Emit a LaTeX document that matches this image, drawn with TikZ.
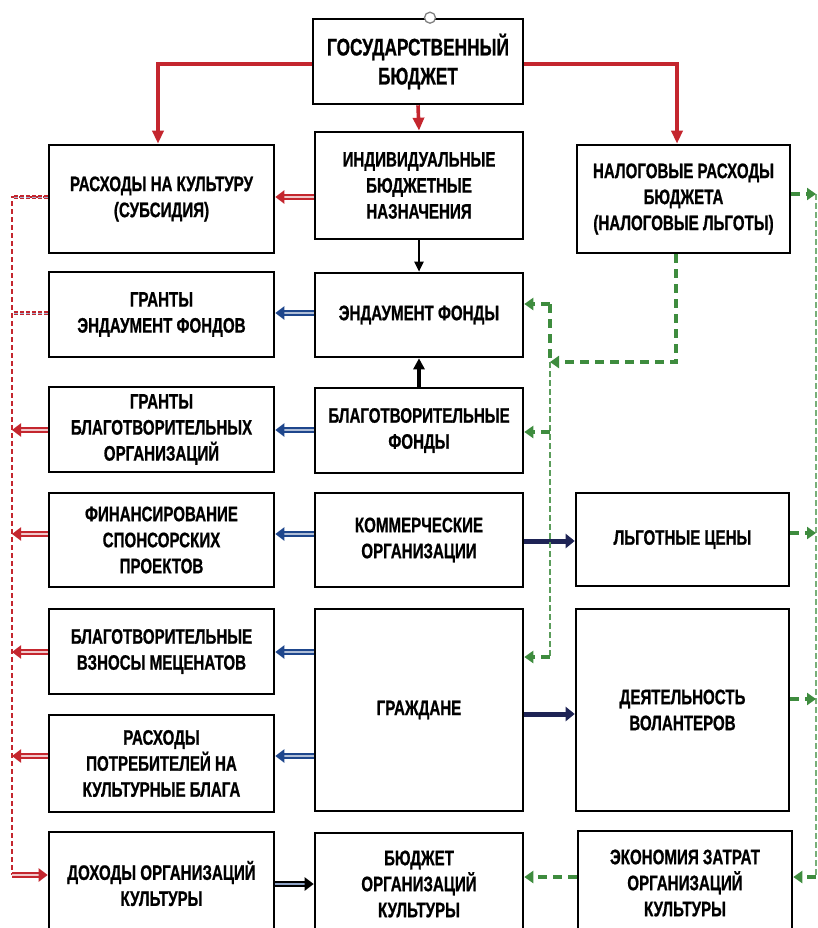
\documentclass[tikz,border=0pt]{standalone}
\usepackage{fontspec}
\newfontfamily\cf{Liberation Sans}[FakeStretch=0.72, FakeBold=0.8]
\usetikzlibrary{arrows.meta}
\definecolor{myred}{RGB}{196,38,46}
\definecolor{myblue}{RGB}{30,70,140}
\definecolor{mynavy}{RGB}{30,35,85}
\definecolor{mygreen}{RGB}{62,140,62}
\definecolor{mylgreen}{RGB}{120,175,120}
\tikzset{
  box/.style={draw=black, line width=2.6pt, fill=white, align=center, inner sep=0pt,
    font=\cf\bfseries\fontsize{21}{26}\selectfont},
  bigbox/.style={box, font=\cf\bfseries\fontsize{24}{29}\selectfont},
  redarr/.style={draw=myred, line width=3.6pt, -{Triangle[length=13pt,width=11pt]}},
  dbl/.style={line width=2.2pt, double distance=1.3pt, -{Triangle[length=9pt,width=13pt]}},
  dred/.style={dbl, draw=myred, double=myred!25},
  dblue/.style={dbl, draw=myblue, double=myblue!35},
  dblack/.style={dbl, draw=black, double=myblue!50},
  navyarr/.style={draw=mynavy, line width=5pt, -{Triangle[length=9pt,width=14pt]}},
  blkarr/.style={draw=black, line width=2.2pt, -{Triangle[length=10pt,width=9pt]}},
  blkthick/.style={draw=black, line width=3.4pt, -{Triangle[length=11pt,width=11pt]}},
  rdash/.style={draw=myred, line width=1.5pt, dash pattern=on 5pt off 3pt},
  rdashw/.style={draw=myred, line width=1.6pt, dash pattern=on 4pt off 2pt, double=myblue!40, double distance=0.6pt},
  gdash/.style={draw=mygreen, line width=3.6pt, dash pattern=on 9pt off 6pt},
  garr/.style={gdash, -{Triangle[length=9pt,width=12pt]}},
  gthin/.style={draw=mygreen!85, line width=1.8pt, dash pattern=on 6pt off 3pt},
  glight/.style={draw=mylgreen, line width=1.5pt, dash pattern=on 6pt off 3pt},
}
\begin{document}
\begin{tikzpicture}[x=1pt,y=-1pt]
\useasboundingbox (0,0) rectangle (818,928);
\clip (0,0) rectangle (818,928);
% boxes
\node[bigbox, minimum width=210, minimum height=85] (gb) at (418,61.5) {ГОСУДАРСТВЕННЫЙ\\БЮДЖЕТ};
\node[circle, draw=gray, fill=white, line width=1.3pt, minimum size=11pt, inner sep=0pt] (knob) at ([xshift=12pt]gb.north) {};
\node[box, minimum width=208, minimum height=107] (ind) at (419,185.5) {ИНДИВИДУАЛЬНЫЕ\\БЮДЖЕТНЫЕ\\НАЗНАЧЕНИЯ};
\node[box, minimum width=225, minimum height=108] (ras) at (161.5,199) {РАСХОДЫ НА КУЛЬТУРУ\\(СУБСИДИЯ)};
\node[box, minimum width=213, minimum height=108] (nal) at (683.5,199) {НАЛОГОВЫЕ РАСХОДЫ\\БЮДЖЕТА\\(НАЛОГОВЫЕ ЛЬГОТЫ)};
\node[box, minimum width=225, minimum height=85] (gre) at (161.5,314.5) {ГРАНТЫ\\ЭНДАУМЕНТ ФОНДОВ};
\node[box, minimum width=208, minimum height=84] (end) at (419,315) {ЭНДАУМЕНТ ФОНДЫ};
\node[box, minimum width=225, minimum height=85] (grb) at (161.5,429.5) {ГРАНТЫ\\БЛАГОТВОРИТЕЛЬНЫХ\\ОРГАНИЗАЦИЙ};
\node[box, minimum width=208, minimum height=85] (blf) at (419,430.5) {БЛАГОТВОРИТЕЛЬНЫЕ\\ФОНДЫ};
\node[box, minimum width=225, minimum height=94] (fin) at (161.5,540) {ФИНАНСИРОВАНИЕ\\СПОНСОРСКИХ\\ПРОЕКТОВ};
\node[box, minimum width=208, minimum height=94] (kom) at (419,540) {КОММЕРЧЕСКИЕ\\ОРГАНИЗАЦИИ};
\node[box, minimum width=213, minimum height=93] (lgc) at (682.5,539.5) {ЛЬГОТНЫЕ ЦЕНЫ};
\node[box, minimum width=225, minimum height=85] (vzn) at (161.5,651.5) {БЛАГОТВОРИТЕЛЬНЫЕ\\ВЗНОСЫ МЕЦЕНАТОВ};
\node[box, minimum width=208, minimum height=202] (grz) at (419,710) {ГРАЖДАНЕ};
\node[box, minimum width=213, minimum height=202] (vol) at (682.5,710) {ДЕЯТЕЛЬНОСТЬ\\ВОЛАНТЕРОВ};
\node[box, minimum width=225, minimum height=97] (rpt) at (161.5,763.5) {РАСХОДЫ\\ПОТРЕБИТЕЛЕЙ НА\\КУЛЬТУРНЫЕ БЛАГА};
\node[box, minimum width=225, minimum height=103] (doh) at (161.5,883.5) {ДОХОДЫ ОРГАНИЗАЦИЙ\\КУЛЬТУРЫ};
\node[box, minimum width=208, minimum height=102] (bud) at (419,884) {БЮДЖЕТ\\ОРГАНИЗАЦИЙ\\КУЛЬТУРЫ};
\node[box, minimum width=214, minimum height=104] (eko) at (685,883) {ЭКОНОМИЯ ЗАТРАТ\\ОРГАНИЗАЦИЙ\\КУЛЬТУРЫ};
% helper coordinates
\coordinate (lt) at (12,197);
\coordinate (lb) at (12,875);
\coordinate (gc) at (550,362);
\coordinate (gm1) at (550,304);
\coordinate (gm2) at (550,657);
\coordinate (rt) at (816,194);
\coordinate (rb) at (816,877);
% red from budget
\draw[redarr] (gb.west |- 0,64) -| (158,0 |- ras.north);
\draw[redarr] (gb.east |- 0,64) -| (677,0 |- nal.north);
\draw[redarr] (gb.south) -- (ind.north);
\draw[dred] (ind.west |- 0,197) -- (ras.east |- 0,197);
% black
\draw[blkarr] (ind.south) -- (end.north);
\draw[blkthick] (blf.north) -- (end.south);
% blue doubles
\draw[dblue] (end.west |- 0,313) -- (gre.east |- 0,313);
\draw[dblue] (blf.west |- 0,430) -- (grb.east |- 0,430);
\draw[dblue] (kom.west |- 0,534) -- (fin.east |- 0,534);
\draw[dblue] (grz.west |- 0,652) -- (vzn.east |- 0,652);
\draw[dblue] (grz.west |- 0,756) -- (rpt.east |- 0,756);
% navy
\draw[navyarr] (kom.east |- 0,541) -- (lgc.west |- 0,541);
\draw[navyarr] (grz.east |- 0,714) -- (vol.west |- 0,714);
% black double
\draw[dblack] (doh.east |- 0,884) -- (bud.west |- 0,884);
% left red network
\draw[rdash] (ras.west |- lt) -- (lt) -- (lb);
\draw[rdashw] (ras.west |- lt) -- (lt);
\draw[rdashw] (gre.west |- 0,313) -- (lt |- 0,313);
\draw[dred] (grb.west |- 0,430) -- (lt |- 0,430);
\draw[dred] (fin.west |- 0,534) -- (lt |- 0,534);
\draw[dred] (vzn.west |- 0,652) -- (lt |- 0,652);
\draw[dred] (rpt.west |- 0,756) -- (lt |- 0,756);
\draw[dred] (lb) -- (doh.west |- lb);
% green middle network
\draw[garr] (676,0 |- nal.south) |- (gc);
\draw[gdash] (gm1) -- (gc);
\draw[gthin] (gc) -- (gm2);
\draw[garr] (gm1) -- (end.east |- gm1);
\draw[garr] (550,432) -- (blf.east |- 0,432);
\draw[garr] (gm2) -- (grz.east |- gm2);
% green right network
\draw[glight] (rt) -- (rb);
\draw[garr] (nal.east |- rt) -- (rt);
\draw[garr] (lgc.east |- 0,533) -- (rt |- 0,533);
\draw[garr] (vol.east |- 0,699) -- (rt |- 0,699);
\draw[garr] (rb) -- (eko.east |- rb);
\draw[garr] (eko.west |- 0,877) -- (bud.east |- 0,877);
\end{tikzpicture}
\end{document}
